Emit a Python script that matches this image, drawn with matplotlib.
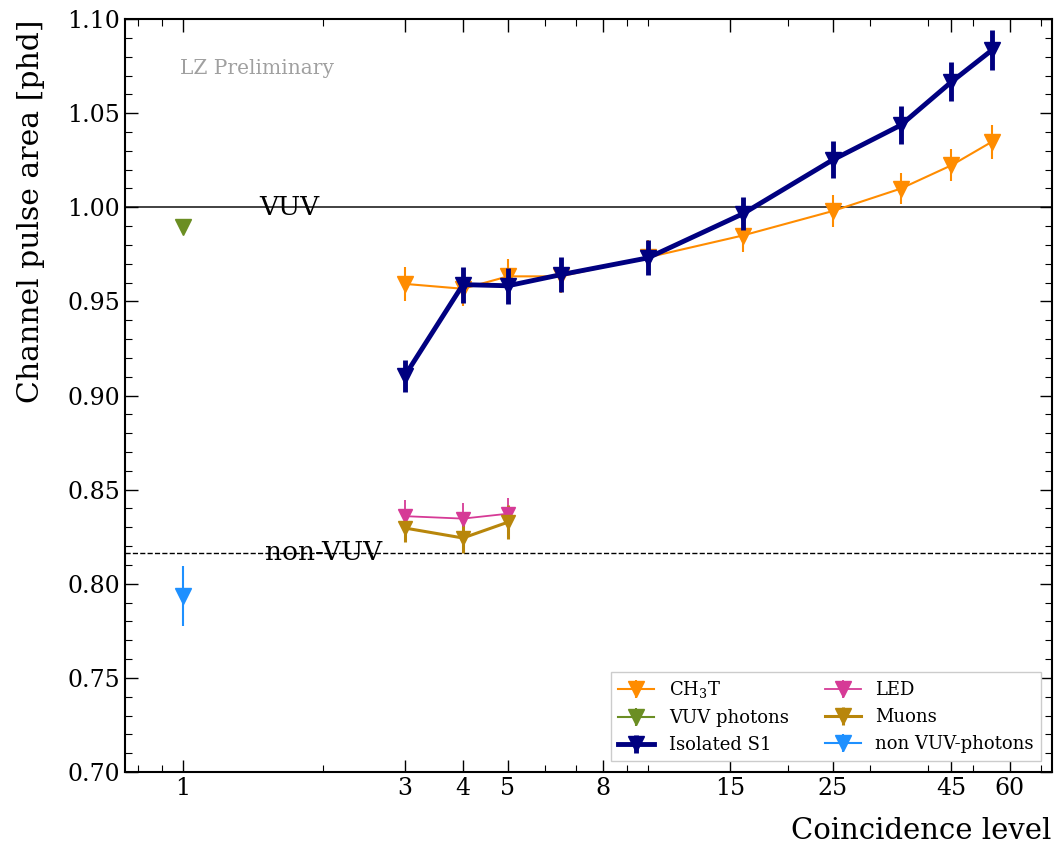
import numpy as np
import matplotlib
matplotlib.use("Agg")
import matplotlib.pyplot as plt
from matplotlib.ticker import LogLocator, MultipleLocator, NullFormatter, FormatStrFormatter

plt.rcParams['font.family'] = 'DejaVu Serif'
plt.rcParams['mathtext.fontset'] = 'dejavuserif'

# coincidence levels
x_main = [3, 4, 5, 6.5, 10, 16, 25, 35, 45, 55]
x_low = [3, 4, 5]

# CH3T
ch3t_y = [0.9593, 0.9567, 0.9633, 0.9633, 0.9734, 0.985, 0.998, 1.0099, 1.0223, 1.0348]
ch3t_err = [0.009, 0.009, 0.009, 0.009, 0.009, 0.009, 0.0085, 0.0083, 0.0085, 0.0089]

# Isolated S1
s1_y = [0.9105, 0.9589, 0.9583, 0.9642, 0.9731, 0.9965, 1.0252, 1.0436, 1.0666, 1.0835]
s1_err = [0.0084, 0.0095, 0.0095, 0.0094, 0.0093, 0.0088, 0.0099, 0.0102, 0.0104, 0.0105]

# LED and muons
led_y = [0.8359, 0.8346, 0.8372]
led_err = [0.0085, 0.0085, 0.0085]
muon_y = [0.8296, 0.8243, 0.8327]
muon_err = [0.0075, 0.008, 0.009]

# single photon references
vuv_x, vuv_y, vuv_err = [1], [0.9895], [0.002]
nonvuv_x, nonvuv_y, nonvuv_err = [1], [0.7934], [0.016]

vuv_level = 1.00
nonvuv_level = 0.8164

xticks = [1, 3, 4, 5, 8, 15, 25, 45, 60]

fig = plt.figure(figsize=(10.55, 8.46), dpi=100)
ax = fig.add_axes([0.1185, 0.0875, 0.8785, 0.89])

ax.axhline(vuv_level, color='#333333', lw=1.3, zorder=1)
ax.axhline(nonvuv_level, color='black', lw=1.0, ls='--', zorder=1)
ax.text(1.46, vuv_level, 'VUV', fontsize=19, va='center', ha='left', zorder=2)
ax.text(1.50, nonvuv_level, 'non-VUV', fontsize=19, va='center', ha='left', zorder=2)

ax.errorbar(x_main, ch3t_y, yerr=ch3t_err, color='#ff8c00', marker='v', ms=11,
            lw=1.5, elinewidth=1.5, label=r'CH$_3$T', zorder=3)
ax.errorbar(vuv_x, vuv_y, yerr=vuv_err, color='#6b8e23', marker='v', ms=11,
            lw=1.5, elinewidth=1.5, label='VUV photons', zorder=3)
ax.errorbar(x_main, s1_y, yerr=s1_err, color='#000080', marker='v', ms=11,
            lw=3.5, elinewidth=3.5, label='Isolated S1', zorder=4)
ax.errorbar(x_low, led_y, yerr=led_err, color='#d63a96', marker='v', ms=10,
            lw=1.3, elinewidth=1.3, label='LED', zorder=3)
ax.errorbar(x_low, muon_y, yerr=muon_err, color='#b8860b', marker='v', ms=10,
            lw=2.2, elinewidth=2.2, label='Muons', zorder=3)
ax.errorbar(nonvuv_x, nonvuv_y, yerr=nonvuv_err, color='#1e90ff', marker='v', ms=11,
            lw=1.5, elinewidth=1.5, label='non VUV-photons', zorder=3)

ax.set_xscale('log')
ax.set_xlim(0.75, 74)
ax.set_ylim(0.70, 1.10)
ax.set_xticks(xticks)
ax.set_xticklabels([str(t) for t in xticks])
ax.xaxis.set_minor_locator(LogLocator(base=10, subs=np.arange(1, 10), numticks=20))
ax.xaxis.set_minor_formatter(NullFormatter())
ax.yaxis.set_major_locator(MultipleLocator(0.05))
ax.yaxis.set_minor_locator(MultipleLocator(0.01))
ax.yaxis.set_major_formatter(FormatStrFormatter('%.2f'))

ax.tick_params(which='both', direction='in', top=True, right=True, labelsize=17)
ax.tick_params(which='major', length=9, width=1)
ax.tick_params(which='minor', length=5, width=0.8)
for s in ax.spines.values():
    s.set_linewidth(1.5)

ax.set_ylabel('Channel pulse area [phd]', fontsize=21.5, loc='top', labelpad=16)
ax.set_xlabel('Coincidence level', fontsize=21, loc='right', labelpad=12)

ax.text(0.059, 0.934, 'LZ Preliminary', transform=ax.transAxes, fontsize=14.5,
        color='#a0a0a0', va='center', ha='left')

leg = ax.legend(loc='lower right', ncol=2, fontsize=13, fancybox=False,
                edgecolor='#cccccc', framealpha=1, columnspacing=2.0,
                borderaxespad=0.6, markerscale=1.1)
leg.get_frame().set_linewidth(1.0)

fig.savefig('out.png', dpi=100)
